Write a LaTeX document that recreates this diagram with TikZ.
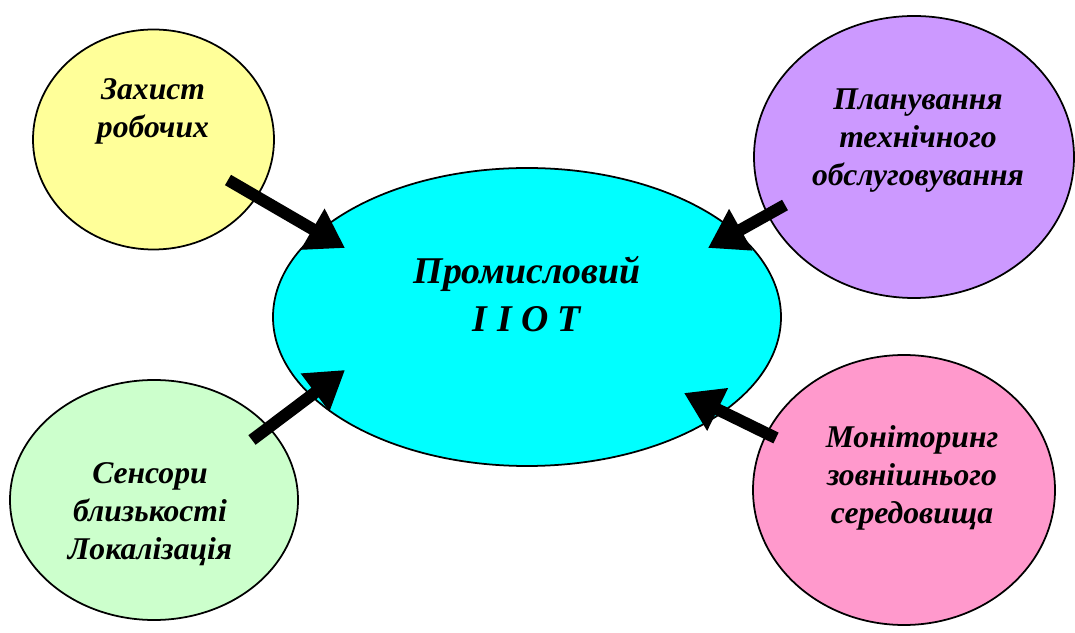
\documentclass[tikz,border=0pt]{standalone}
\usepackage{fontspec}
\setmainfont{Liberation Serif}
\usetikzlibrary{shapes.geometric,arrows.meta}
\definecolor{lemon}{RGB}{255,255,153}
\definecolor{aqua}{RGB}{0,255,255}
\definecolor{lilac}{RGB}{204,153,255}
\definecolor{mint}{RGB}{204,255,204}
\definecolor{rose}{RGB}{255,153,204}
\tikzset{
    % Outline of every ellipse
    blob/.style={
        draw=black,
        ellipse,
        line width=1pt,
        inner sep=0pt,
    },
    % Texts of the outer ellipses
    blobtext/.style={
        align=center,
        font=\fontsize{18}{21.6}\selectfont\bfseries\itshape,
    },
    % Texts of the centre
    hubtext/.style={
        align=center,
        font=\fontsize{21.5}{27}\selectfont\bfseries\itshape,
    },
    % Thick arrows
    bigarrow/.style={
        line width=0.24cm,
        -{Triangle[length=0.75cm,width=0.9cm]},
    },
}

\begin{document}
\begin{tikzpicture}
\useasboundingbox (0,0) rectangle (21.5,12.64);
% Centre
\node[blob, fill=aqua, minimum width=10.16cm, minimum height=5.96cm] (hub) at (10.54,6.30) {};
\node[hubtext] (hub-t) at (10.54,6.76) {Промисловий\\I I O T};
% Outer ellipses
\node[blob, fill=lemon, minimum width=4.82cm, minimum height=4.40cm] (workers) at (3.07,9.85) {};
\node[blobtext] (workers-t) at (3.06,10.42) {Захист\\робочих};
\node[blob, fill=lilac, minimum width=6.40cm, minimum height=5.64cm] (service) at (18.28,9.50) {};
\node[blobtext] (service-t) at (18.36,9.82) {Планування\\технічного\\обслуговування};
\node[blob, fill=mint, minimum width=5.76cm, minimum height=4.80cm] (sensors) at (3.08,2.64) {};
\node[blobtext] (sensors-t) at (3.00,2.36) {Сенсори\\близькості\\Локалізація};
\node[blob, fill=rose, minimum width=6.04cm, minimum height=5.40cm] (monitor) at (18.08,2.84) {};
\node[blobtext] (monitor-t) at (18.24,3.08) {Моніторинг\\зовнішнього\\середовища};
% Arrow ends
\coordinate (workers-a) at (4.56,9.04);
\coordinate (service-a) at (15.70,8.54);
\coordinate (sensors-a) at (5.04,3.84);
\coordinate (monitor-a) at (15.52,3.88);
\coordinate (hub-nw) at (6.90,7.68);
\coordinate (hub-ne) at (14.16,7.68);
\coordinate (hub-sw) at (6.90,5.24);
\coordinate (hub-se) at (13.68,4.78);
% Arrows
\draw[bigarrow] (workers-a) -- (hub-nw);
\draw[bigarrow] (service-a) -- (hub-ne);
\draw[bigarrow] (sensors-a) -- (hub-sw);
\draw[bigarrow] (monitor-a) -- (hub-se);
\end{tikzpicture}
\end{document}
